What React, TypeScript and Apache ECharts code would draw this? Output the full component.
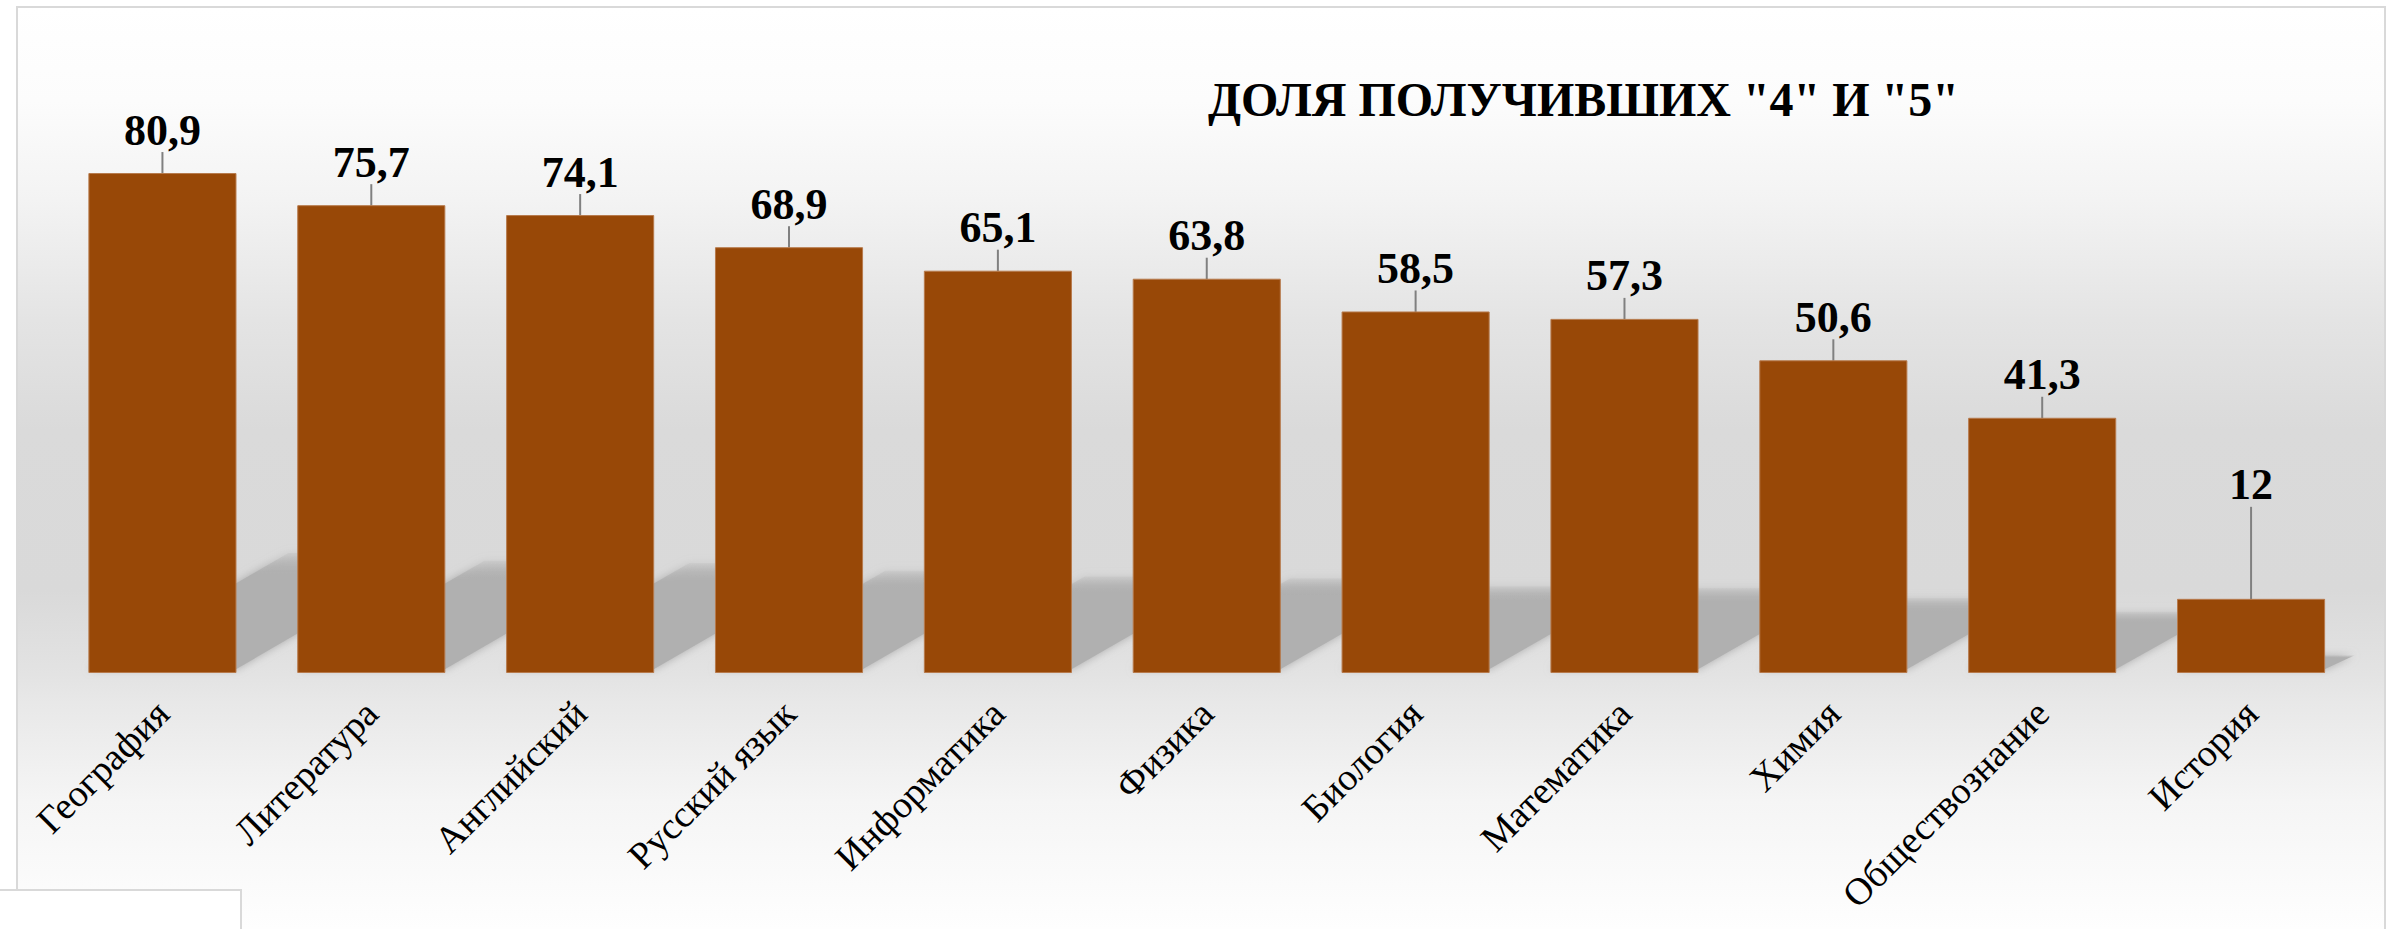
import React, { useEffect, useRef } from "react";
import * as echarts from "echarts";

const categories = [
  "География",
  "Литература",
  "Английский",
  "Русский язык",
  "Информатика",
  "Физика",
  "Биология",
  "Математика",
  "Химия",
  "Обществознание",
  "История",
];
const shareValues = [80.9, 75.7, 74.1, 68.9, 65.1, 63.8, 58.5, 57.3, 50.6, 41.3, 12];
const chartTitle = 'ДОЛЯ ПОЛУЧИВШИХ "4" И "5"';

const SERIF = "Liberation Serif";
const BAR_RATIO = 0.709;

export default function App() {
  const ref = useRef<HTMLDivElement>(null);
  useEffect(() => {
    document.body.style.margin = "0";
    if (!ref.current) return;
    const chart = echarts.init(ref.current, null, { renderer: "svg" });
    const bg = new echarts.graphic.LinearGradient(0, 0, 0, 1, [
      { offset: 0, color: "#ffffff" },
      { offset: 0.1, color: "#fcfcfc" },
      { offset: 0.205, color: "#f3f3f3" },
      { offset: 0.333, color: "#e4e4e4" },
      { offset: 0.45, color: "#dadada" },
      { offset: 0.62, color: "#d9d9d9" },
      { offset: 0.71, color: "#e3e3e3" },
      { offset: 0.74, color: "#e8e8e8" },
      { offset: 0.845, color: "#f5f5f5" },
      { offset: 0.98, color: "#fefefe" },
      { offset: 1, color: "#ffffff" },
    ]);
    const shadowFill = new echarts.graphic.LinearGradient(0, 0, 0, 1, [
      { offset: 0, color: "rgba(179,179,179,0.2)" },
      { offset: 0.18, color: "rgba(176,176,176,1)" },
      { offset: 1, color: "rgba(176,176,176,1)" },
    ]);
    chart.setOption({
      animation: false,
      title: {
        text: chartTitle,
        left: 1203,
        top: 70,
        textStyle: { fontFamily: SERIF, fontSize: 48, fontWeight: "bold", color: "#000" },
      },
      graphic: [
        {
          type: "rect",
          z: -10,
          shape: { x: 17, y: 7, width: 2368, height: 940 },
          style: { fill: bg, stroke: "#d9d9d9", lineWidth: 2 },
        },
        {
          type: "rect",
          z: 100,
          shape: { x: -2, y: 890, width: 243, height: 60 },
          style: { fill: "#ffffff", stroke: "#d9d9d9", lineWidth: 2 },
        },
      ],
      grid: { left: 58, right: 48.5, top: 55, bottom: 256, containLabel: false },
      xAxis: {
        type: "category",
        data: categories,
        axisLine: { show: false },
        axisTick: { show: false },
        axisLabel: {
          rotate: 45,
          interval: 0,
          margin: 34,
          color: "#000",
          fontFamily: SERIF,
          fontSize: 38,
        },
      },
      yAxis: {
        type: "value",
        min: 0,
        max: 100,
        show: false,
        splitLine: { show: false },
      },
      series: [
        {
          type: "custom",
          z: 1,
          silent: true,
          data: shareValues.map((v, i) => [i, v]),
          renderItem: (params: any, api: any) => {
            const idx = api.value(0);
            const val = api.value(1);
            const base = api.coord([idx, 0]);
            const top = api.coord([idx, val]);
            const band = api.size([1, 0])[0];
            const bw = band * BAR_RATIO;
            const L = base[0] - bw / 2;
            const R = base[0] + bw / 2;
            const y0 = base[1];
            const h = (y0 - top[1]) * 0.24;
            const dx = h / 0.6;
            return {
              type: "polygon",
              shape: {
                points: [
                  [L, y0 - 4],
                  [R, y0 - 4],
                  [R + dx, y0 - h],
                  [L + dx, y0 - h],
                ],
              },
              style: { fill: shadowFill, shadowBlur: 8, shadowColor: "rgba(160,160,160,0.8)" },
            };
          },
        },
        {
          type: "bar",
          z: 3,
          data: shareValues,
          barWidth: `${BAR_RATIO * 100}%`,
          itemStyle: { color: "#984807", borderColor: "#b77a4c", borderWidth: 1 },
          label: {
            show: true,
            position: "top",
            distance: 5,
            color: "#000",
            fontFamily: SERIF,
            fontSize: 44,
            fontWeight: "bold",
            formatter: (p: any) => String(p.value).replace(".", ","),
          },
          labelLine: { show: true, lineStyle: { color: "#808080", width: 2 } },
          labelLayout: (p: any) => ({ dy: p.dataIndex === categories.length - 1 ? -87 : -16 }),
        },
      ],
    });
    return () => chart.dispose();
  }, []);
  return (
    <div
      ref={ref}
      style={{ position: "absolute", left: 0, top: 0, width: 2404, height: 929 }}
    />
  );
}
